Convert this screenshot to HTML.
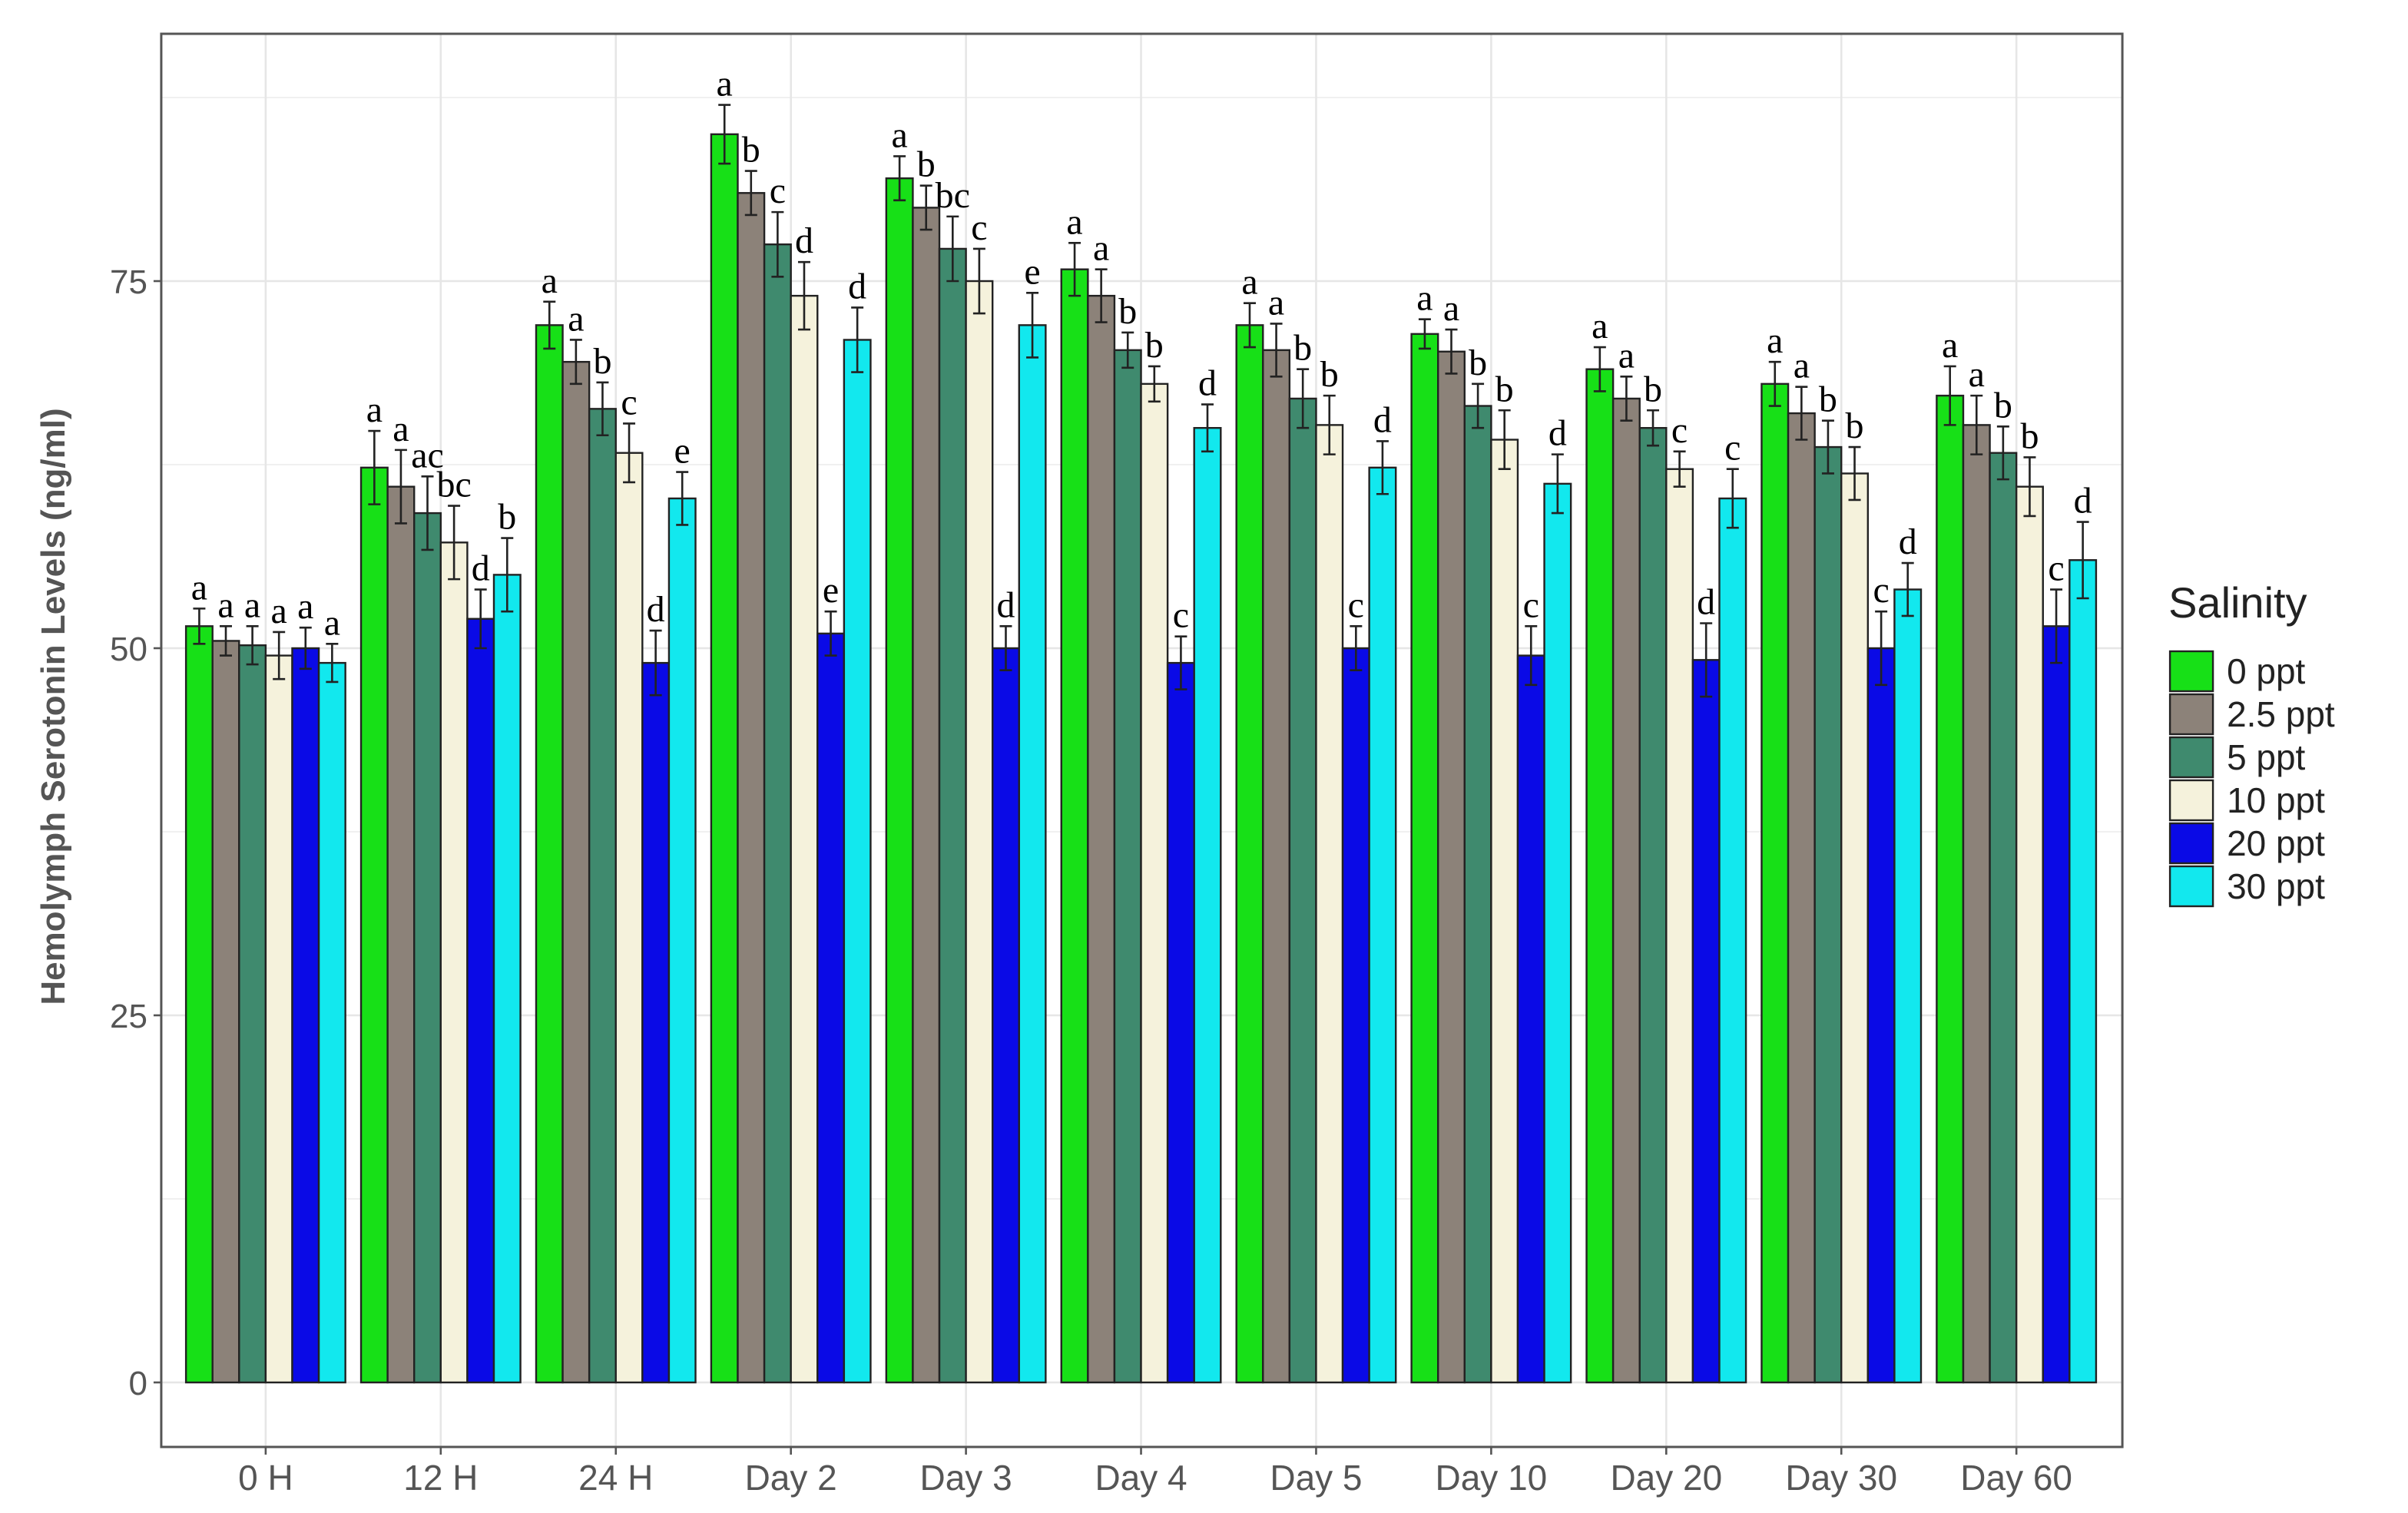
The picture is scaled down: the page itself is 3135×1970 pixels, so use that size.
<!DOCTYPE html>
<html><head><meta charset="utf-8"><style>html,body{margin:0;padding:0;background:#fff}svg{display:block}</style></head>
<body>
<svg id="chart" width="3135" height="1970" viewBox="0 0 1568 985" preserveAspectRatio="none" xmlns="http://www.w3.org/2000/svg">
<rect x="0" y="0" width="1568" height="985" fill="#fff"/>
<g id="grid"></g>
<g id="bars"></g>
<rect x="105" y="22" width="1277" height="920" fill="none" stroke="#555" stroke-width="1.5"/>
<g id="axes"></g>
<text transform="translate(42,460) rotate(-90)" text-anchor="middle" font-family="Liberation Sans, sans-serif" font-size="22" font-weight="bold" fill="#555">Hemolymph Serotonin Levels (ng/ml)</text>
<g id="legend"></g>
</svg>
<script>
const categories = ["0 H","12 H","24 H","Day 2","Day 3","Day 4","Day 5","Day 10","Day 20","Day 30","Day 60"];
const seriesNames = ["0 ppt","2.5 ppt","5 ppt","10 ppt","20 ppt","30 ppt"];
const seriesColors = ["#17e017","#8c8279","#3f8a6e","#f5f2dc","#0a0ae6","#12e8ee"];
const s0 = [51.5,62.3,72,85,82,75.8,72,71.4,69,68,67.2];
const s1 = [50.5,61,69.5,81,80,74,70.3,70.2,67,66,65.2];
const s2 = [50.2,59.2,66.3,77.5,77.2,70.3,67,66.5,65,63.7,63.3];
const s3 = [49.5,57.2,63.3,74,75,68,65.2,64.2,62.2,61.9,61];
const s4 = [50,52,49,51,50,49,50,49.5,49.2,50,51.5];
const s5 = [49,55,60.2,71,72,65,62.3,61.2,60.2,54,56];
const e0 = [1.2,2.5,1.6,2,1.5,1.8,1.5,1,1.5,1.5,2];
const e1 = [1,2.5,1.5,1.5,1.5,1.8,1.8,1.5,1.5,1.8,2];
const e2 = [1.3,2.5,1.8,2.2,2.2,1.2,2,1.5,1.2,1.8,1.8];
const e3 = [1.6,2.5,2,2.3,2.2,1.2,2,2,1.2,1.8,2];
const e4 = [1.4,2,2.2,1.5,1.5,1.8,1.5,2,2.5,2.5,2.5];
const e5 = [1.3,2.5,1.8,2.2,2.2,1.6,1.8,2,2,1.8,2.6];
const l0 = ["a","a","a","a","a","a","a","a","a","a","a"];
const l1 = ["a","a","a","b","b","a","a","a","a","a","a"];
const l2 = ["a","ac","b","c","bc","b","b","b","b","b","b"];
const l3 = ["a","bc","c","d","c","b","b","b","c","b","b"];
const l4 = ["a","d","d","e","d","c","c","c","d","c","c"];
const l5 = ["a","b","e","d","e","d","d","d","c","d","d"];
const yTicks = [0,25,50,75];
const yMinor = [12.5,37.5,62.5,87.5];

const S=[s0,s1,s2,s3,s4,s5], E=[e0,e1,e2,e3,e4,e5], L=[l0,l1,l2,l3,l4,l5];
const NS="http://www.w3.org/2000/svg";
const y = v => 900 - v*9.56;
const xc = i => 173 + i*114;
const bw = 17.3;
function mk(tag, attrs, parent){const el=document.createElementNS(NS,tag);for(const k in attrs)el.setAttribute(k,attrs[k]);parent.appendChild(el);return el;}
const grid=document.getElementById('grid'), bars=document.getElementById('bars'), axes=document.getElementById('axes'), leg=document.getElementById('legend');
yMinor.forEach(v=>{const l=mk('line',{x1:105,x2:1382,y1:y(v),y2:y(v),stroke:'#f0f0f0','stroke-width':1},grid);

});
yTicks.forEach(v=>{const l=mk('line',{x1:105,x2:1382,y1:y(v),y2:y(v),stroke:'#e6e6e6','stroke-width':1.3},grid);


const tk=mk('line',{x1:100,x2:105,y1:y(v),y2:y(v),stroke:'#555','stroke-width':1.3},axes);


const t=mk('text',{x:96,y:y(v)+8,'text-anchor':'end','font-family':'Liberation Sans, sans-serif','font-size':22,fill:'#555'},axes);t.textContent=v;

});
categories.forEach((c,i)=>{
const g=mk('line',{x1:xc(i),x2:xc(i),y1:22,y2:942,stroke:'#e6e6e6','stroke-width':1.3},grid);


const tk=mk('line',{x1:xc(i),x2:xc(i),y1:942,y2:947,stroke:'#555','stroke-width':1.3},axes);


const t=mk('text',{x:xc(i),y:970,'text-anchor':'middle','font-family':'Liberation Sans, sans-serif','font-size':23,fill:'#555'},axes);t.textContent=c;


for(let s=0;s<6;s++){
 const v=S[s][i], e=E[s][i];
 const x0=xc(i)-3*bw+s*bw;
 const r=mk('rect',{x:x0,y:y(v),width:bw,height:y(0)-y(v),fill:seriesColors[s],stroke:'#222','stroke-width':1.2},bars);
 
 
 const cx=x0+bw/2;
 const eb=mk('path',{d:`M${cx-4},${y(v+e)}H${cx+4}M${cx},${y(v+e)}V${y(v-e)}M${cx-4},${y(v-e)}H${cx+4}`,stroke:'#222','stroke-width':1.3,fill:'none'},bars);
 
 
 const lt=mk('text',{x:cx,y:y(v+e)-6,'text-anchor':'middle','font-family':'Liberation Serif, serif','font-size':24,fill:'#000'},bars);lt.textContent=L[s][i];
 
 
}});
const lt=mk('text',{x:1412,y:402,'font-family':'Liberation Sans, sans-serif','font-size':28,fill:'#222'},leg);lt.textContent='Salinity';


seriesNames.forEach((n,s)=>{
 const yy=424+s*28;
 const r=mk('rect',{x:1413,y:yy,width:28,height:26,fill:seriesColors[s],stroke:'#222','stroke-width':1.2},leg);
 
 
 const t=mk('text',{x:1450,y:yy+21,'font-family':'Liberation Sans, sans-serif','font-size':23,fill:'#222'},leg);t.textContent=n;
 
 
});
</script>
</body></html>
